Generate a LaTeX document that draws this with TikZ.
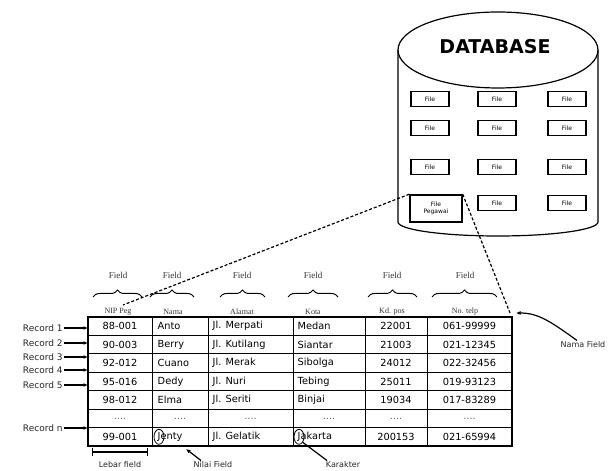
\documentclass[tikz,border=0pt]{standalone}
\usepackage{fontspec}
\setmainfont{Liberation Serif}
\setsansfont{DejaVu Sans}
\usetikzlibrary{decorations.pathreplacing,arrows.meta,shapes.geometric}

\begin{document}
\begin{tikzpicture}[x=1pt,y=1pt,line width=.8pt,font=\sffamily\fontsize{9.8}{11}\selectfont,
  filebox/.style={draw,line width=1.5pt,minimum width=38pt,minimum height=15pt,inner sep=0pt,font=\sffamily\fontsize{6}{6.5}\selectfont},
  fieldbrace/.style={decorate,decoration={brace,amplitude=7pt},line width=1pt},
  hdr/.style={font=\rmfamily\fontsize{8}{9}\selectfont,text=black!80,inner sep=1pt},
  fldlbl/.style={font=\rmfamily\fontsize{9}{10}\selectfont,text=black!80,inner sep=1pt},
  small/.style={font=\sffamily\fontsize{8}{9}\selectfont,text=black!85,inner sep=1pt},
  reclbl/.style={small,anchor=east,font=\sffamily\fontsize{9}{10}\selectfont},
  recarrow/.style={-{Latex[length=4.5pt,width=4pt]},line width=1.2pt},
  letterring/.style={draw,ellipse,minimum width=10pt,minimum height=15pt,inner sep=0pt,line width=.8pt}]
\useasboundingbox (0,0) rectangle (611,471);
\draw[line width=1.2pt] (398,421) -- (398,249) arc[start angle=180,end angle=360,x radius=100,y radius=14] -- (598,421);
\draw[line width=1.2pt] (498,421) ellipse[x radius=100,y radius=38];
\node[font=\sffamily\bfseries\fontsize{19}{20}\selectfont] (db) at (495,424) {DATABASE};
\foreach \c/\x in {1/430,2/497,3/567}
  \foreach \r/\y in {1/372,2/343,3/304}
    \node[filebox] (f\r\c) at (\x,\y) {File};
\node[filebox] (f42) at (497,268) {File};
\node[filebox] (f43) at (567,268) {File};
\node[filebox,minimum width=52pt,minimum height=27pt,align=center] (peg) at (436,262.5) {File\\Pegawai};
\coordinate (tl) at (88,154);
\coordinate (br) at (512,25);
\draw[line width=1.1pt] (tl) rectangle (br);
\foreach \x in {152,208,293,365,427} \draw (\x,154) -- (\x,25);
\foreach \i in {1,...,6} \draw (88,154-\i*18.43) -- (512,154-\i*18.43);
\foreach \i/\a/\b/\c/\d/\e/\f in {1/88-001/Anto/Jl. Merpati/Medan/22001/061-99999,
  2/90-003/Berry/Jl. Kutilang/Siantar/21003/021-12345,
  3/92-012/Cuano/Jl. Merak/Sibolga/24012/022-32456,
  4/95-016/Dedy/Jl. Nuri/Tebing/25011/019-93123,
  5/98-012/Elma/Jl. Seriti/Binjai/19034/017-83289,
  7/99-001/Jenty/Jl. Gelatik/Jakarta/200153/021-65994}
{
  \node (nip\i) at (120,154-\i*18.43+9.2) {\a};
  \node[anchor=west] (nama\i) at (154,154-\i*18.43+9.2) {\b};
  \node[anchor=west] (alamat\i) at (209,154-\i*18.43+9.2) {\c};
  \node[anchor=west] (kota\i) at (294,154-\i*18.43+9.2) {\d};
  \node (kdpos\i) at (396,154-\i*18.43+9.2) {\e};
  \node (telp\i) at (469.5,154-\i*18.43+9.2) {\f};
}
\foreach \n/\x in {nip/120,nama/180,alamat/250.5,kota/329,kdpos/396,telp/469.5}
  \node[text=black!60] (\n6) at (\x,52.6) {....};
\node[letterring] (ring1) at ([xshift=5pt]nama7.west) {};
\node[letterring] (ring2) at ([xshift=5pt]kota7.west) {};
\node[hdr] (hnip) at (118,159) {NIP Peg};
\node[hdr] (hnama) at (173,159) {Nama};
\node[hdr] (halamat) at (242,159) {Alamat};
\node[hdr] (hkota) at (313,159) {Kota};
\node[hdr] (hkdpos) at (392,159) {Kd. pos};
\node[hdr] (htelp) at (465,159) {No. telp};
\draw[fieldbrace] (93,174) -- (142,174);
\draw[fieldbrace] (150,174) -- (194,174);
\draw[fieldbrace] (220,174) -- (265,174);
\draw[fieldbrace] (288,174) -- (338,174);
\draw[fieldbrace] (368,174) -- (417,174);
\draw[fieldbrace] (432,174) -- (497,174);
\node[fldlbl] (fld1) at (118,196) {Field};
\node[fldlbl] (fld2) at (172,196) {Field};
\node[fldlbl] (fld3) at (242,196) {Field};
\node[fldlbl] (fld4) at (313,196) {Field};
\node[fldlbl] (fld5) at (392,196) {Field};
\node[fldlbl] (fld6) at (465,196) {Field};
\coordinate (nipend) at (123,166);
\coordinate (tblend) at (510,158);
\draw[line width=1.2pt,dash pattern=on 3pt off 2pt] (peg.north west) -- (nipend);
\draw[line width=1.2pt,dash pattern=on 3pt off 2pt] (peg.north east) -- (tblend);
\node[reclbl] (rec1) at (64,143) {Record 1};
\node[reclbl] (rec2) at (64,128) {Record 2};
\node[reclbl] (rec3) at (64,114) {Record 3};
\node[reclbl] (rec4) at (64,101) {Record 4};
\node[reclbl] (rec5) at (64,86) {Record 5};
\node[reclbl] (recn) at (64,43) {Record n};
\foreach \r in {rec1,rec2,rec3,rec4,rec5,recn}
  \draw[recarrow] (\r.east) -- (\r.east -| tl);
\node[small] (namaf) at (583,126) {Nama Field};
\coordinate (namatip) at (516,158);
\draw[recarrow] ([xshift=-6pt]namaf.north) .. controls (550,150) and (538,158) .. (namatip);
\coordinate (lw1) at (92,19);
\coordinate (lw2) at (148,19);
\draw[|-|,line width=1.2pt] (lw1) -- (lw2);
\node[small] (lebar) at (120,6) {Lebar field};
\node[small] (nilai) at (213,6) {Nilai Field};
\coordinate (niltip) at (186,22);
\draw[recarrow] ([xshift=-12pt]nilai.north) -- (niltip);
\node[small] (kar) at (343,6) {Karakter};
\draw[line width=1.2pt] (ring2.south east) -- ([xshift=-16pt]kar.north);
\end{tikzpicture}
\end{document}
